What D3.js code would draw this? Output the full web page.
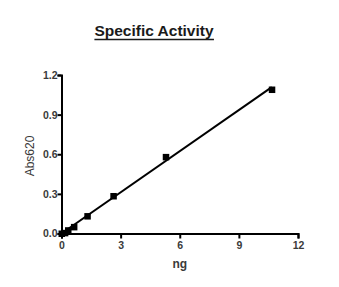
<!DOCTYPE html>
<html>
<head>
<meta charset="utf-8">
<script src="https://cdn.jsdelivr.net/npm/d3@7"></script>
<style>
  body { margin: 0; background: #fff; }
  text { font-family: "Liberation Sans", Arial, sans-serif; }
</style>
</head>
<body>
<div id="chart"></div>
<script>
// data
const ngValues = [0, 0.17, 0.33, 0.63, 1.31, 2.63, 5.29, 10.67];
const absValues = [0, 0.005, 0.025, 0.05, 0.132, 0.284, 0.58, 1.09];
const xTicks = [0, 3, 6, 9, 12];
const yTicks = [0, 0.3, 0.6, 0.9, 1.2];

const width = 339, height = 287;
const margin = { left: 61.5, right: 41, top: 75, bottom: 53.5 };

const svg = d3.select('#chart').append('svg')
  .attr('width', width)
  .attr('height', height);

const x = d3.scaleLinear().domain([0, 12]).range([margin.left, width - margin.right]);
const y = d3.scaleLinear().domain([0, 1.2]).range([height - margin.bottom, margin.top]);

// x axis
const xAxis = svg.append('g')
  .attr('transform', `translate(0,${y(0)})`)
  .call(d3.axisBottom(x).tickValues(xTicks).tickSize(5).tickFormat(d3.format('d')));

// y axis
const yAxis = svg.append('g')
  .attr('transform', `translate(${x(0)},0)`)
  .call(d3.axisLeft(y).tickValues(yTicks).tickSize(4).tickFormat(d3.format('.1f')));

[xAxis, yAxis].forEach(g => {
  g.select('.domain').attr('stroke', '#000').attr('stroke-width', 2);
  g.selectAll('.tick line').attr('stroke', '#000').attr('stroke-width', 2);
  g.selectAll('.tick text')
    .attr('fill', '#3a3a3a')
    .style('font-size', '10.5px')
    .style('font-weight', 'bold');
});
xAxis.selectAll('.tick text').attr('dy', '0.95em').attr('y', 6);
yAxis.selectAll('.tick text').attr('x', -4);

// linear fit
const mx = d3.mean(ngValues), my = d3.mean(absValues);
const slope = d3.sum(ngValues, (v, i) => (v - mx) * (absValues[i] - my)) /
  d3.sum(ngValues, v => (v - mx) * (v - mx));
const intercept = my - slope * mx;
const fitX = [d3.min(ngValues), d3.max(ngValues)];

svg.append('path')
  .datum(fitX)
  .attr('fill', 'none')
  .attr('stroke', '#000')
  .attr('stroke-width', 2)
  .attr('d', d3.line().x(d => x(d)).y(d => y(Math.max(0, intercept + slope * d))));

// points
svg.selectAll('rect.pt')
  .data(ngValues)
  .enter()
  .append('rect')
  .attr('class', 'pt')
  .attr('x', d => x(d) - 3)
  .attr('y', (d, i) => y(absValues[i]) - 3)
  .attr('width', 6.5)
  .attr('height', 6.5)
  .attr('fill', '#000');

// title
const title = svg.append('text')
  .attr('x', 154)
  .attr('y', 36)
  .attr('text-anchor', 'middle')
  .style('font-size', '15.5px')
  .style('font-weight', 'bold')
  .attr('fill', '#1a1a1a')
  .text('Specific Activity');
const tb = title.node().getBBox();
svg.append('line')
  .attr('x1', tb.x).attr('x2', tb.x + tb.width)
  .attr('y1', 39.5).attr('y2', 39.5)
  .attr('stroke', '#1a1a1a').attr('stroke-width', 1.3);

// axis titles
svg.append('text')
  .attr('x', (x(0) + x(12)) / 2)
  .attr('y', 268)
  .attr('text-anchor', 'middle')
  .style('font-size', '12px')
  .style('font-weight', 'bold')
  .attr('fill', '#3a3a3a')
  .text('ng');

svg.append('text')
  .attr('transform', `translate(34,156) rotate(-90)`)
  .attr('text-anchor', 'middle')
  .style('font-size', '12px')
  .attr('fill', '#3a3a3a')
  .text('Abs620');
</script>
</body>
</html>
